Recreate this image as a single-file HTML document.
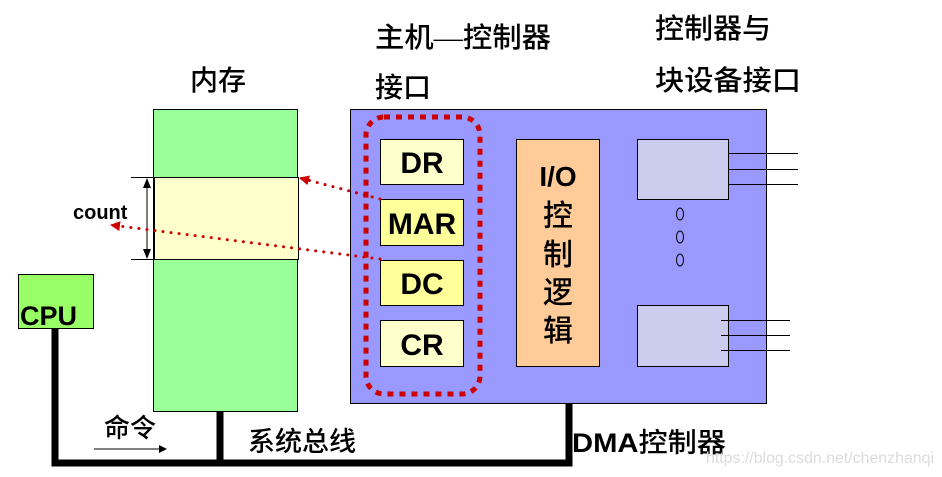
<!DOCTYPE html>
<html><head><meta charset="utf-8"><style>
html,body{margin:0;padding:0;background:#fff;}
svg{display:block;}
.cj{font-family:"Liberation Serif","Noto Sans CJK SC",sans-serif;font-weight:500;}
.b{font-family:"Liberation Sans",sans-serif;font-weight:bold;}
</style></head><body>
<svg width="942" height="477" viewBox="0 0 942 477" xmlns="http://www.w3.org/2000/svg">
<defs>
<marker id="ah" markerWidth="10" markerHeight="10" refX="9" refY="5" orient="auto" markerUnits="userSpaceOnUse">
<path d="M0,0 L10,5 L0,10 Z" fill="#cc0000"/></marker>
<marker id="bk" markerWidth="8" markerHeight="8" refX="7" refY="4" orient="auto" markerUnits="userSpaceOnUse">
<path d="M0,0 L8,4 L0,8 Z" fill="#000"/></marker>
</defs>
<text x="375" y="47" class="cj" font-size="28" textLength="176" lengthAdjust="spacingAndGlyphs">主机—控制器</text>
<text x="375" y="97" class="cj" font-size="28">接口</text>
<text x="655" y="38" class="cj" font-size="28" textLength="116" lengthAdjust="spacingAndGlyphs">控制器与</text>
<text x="655" y="90" class="cj" font-size="28" textLength="146" lengthAdjust="spacingAndGlyphs">块设备接口</text>
<text x="190" y="90" class="cj" font-size="28">内存</text>

<rect x="153.5" y="109.5" width="144" height="302" fill="#99ff99" stroke="#000"/>
<rect x="154.5" y="177.5" width="144" height="82" fill="#ffffcc" stroke="#000"/>
<line x1="131" y1="177.5" x2="154" y2="177.5" stroke="#000"/>
<line x1="131" y1="259.5" x2="154" y2="259.5" stroke="#000"/>
<line x1="147" y1="181" x2="147" y2="256" stroke="#000"/>
<path d="M143,188 L147,178 L151,188 Z M143,249 L147,259 L151,249 Z" fill="#000"/>
<text x="73" y="219" class="b" font-size="20">count</text>

<rect x="18.5" y="274.5" width="75" height="54" fill="#99ff66" stroke="#000"/>
<text x="20" y="325" class="b" font-size="27">CPU</text>

<path d="M55,328 V463 H569 V403" fill="none" stroke="#000" stroke-width="7"/>
<line x1="220" y1="411" x2="220" y2="463" stroke="#000" stroke-width="7"/>
<text x="104" y="437" class="cj" font-size="26">命令</text>
<line x1="94" y1="449" x2="166" y2="449" stroke="#000" marker-end="url(#bk)"/>
<text x="248" y="451" class="cj" font-size="27">系统总线</text>
<text x="572" y="452" class="b" font-size="27" textLength="154" lengthAdjust="spacingAndGlyphs">DMA<tspan font-family="Liberation Serif,Noto Sans CJK SC,sans-serif" font-weight="500">控制器</tspan></text>
<text x="706" y="463" font-family="Liberation Sans,sans-serif" font-size="16" fill="#dcdcdc" textLength="228" lengthAdjust="spacingAndGlyphs">https://blog.csdn.net/chenzhanqi</text>

<rect x="350.5" y="109.5" width="416" height="294" fill="#9999ff" stroke="#000"/>
<rect x="366" y="117" width="114" height="277" rx="18" fill="none" stroke="#cc0000" stroke-width="5" stroke-dasharray="6,6"/>
<rect x="380.5" y="139.5" width="83" height="45" fill="#ffffcc" stroke="#000"/>
<rect x="380.5" y="199.5" width="83" height="46" fill="#ffff99" stroke="#000"/>
<rect x="380.5" y="260.5" width="83" height="45" fill="#ffff99" stroke="#000"/>
<rect x="380.5" y="320.5" width="83" height="46" fill="#ffffcc" stroke="#000"/>
<g class="b" font-size="30" text-anchor="middle">
<text x="422" y="173">DR</text>
<text x="422" y="234">MAR</text>
<text x="422" y="294">DC</text>
<text x="422" y="355">CR</text>
</g>
<rect x="516.5" y="139.5" width="83" height="227" fill="#ffcc99" stroke="#000"/>
<text x="558" y="186" class="b" font-size="28" text-anchor="middle">I/O</text>
<g class="cj" font-size="30" text-anchor="middle">
<text x="558" y="226">控</text>
<text x="558" y="265">制</text>
<text x="558" y="303">逻</text>
<text x="558" y="341">辑</text>
</g>
<rect x="637.5" y="139.5" width="91" height="60" fill="#ccccee" stroke="#000"/>
<rect x="637.5" y="305.5" width="91" height="61" fill="#ccccee" stroke="#000"/>
<g stroke="#000">
<line x1="728" y1="153.5" x2="798" y2="153.5"/>
<line x1="728" y1="169.5" x2="798" y2="169.5"/>
<line x1="728" y1="184.5" x2="798" y2="184.5"/>
<line x1="721" y1="320.5" x2="790" y2="320.5"/>
<line x1="721" y1="335.5" x2="790" y2="335.5"/>
<line x1="721" y1="350.5" x2="790" y2="350.5"/>
</g>
<g fill="none" stroke="#000">
<ellipse cx="680" cy="214" rx="3.5" ry="6"/>
<ellipse cx="680" cy="237" rx="3.5" ry="6"/>
<ellipse cx="680" cy="260" rx="3.5" ry="6"/>
</g>

<line x1="380" y1="199" x2="300" y2="178" stroke="#cc0000" stroke-width="3" stroke-linecap="round" stroke-dasharray="0.1,8" marker-end="url(#ah)"/>
<line x1="380" y1="259" x2="111" y2="225" stroke="#cc0000" stroke-width="3" stroke-linecap="round" stroke-dasharray="0.1,8" marker-end="url(#ah)"/>
</svg>
</body></html>
